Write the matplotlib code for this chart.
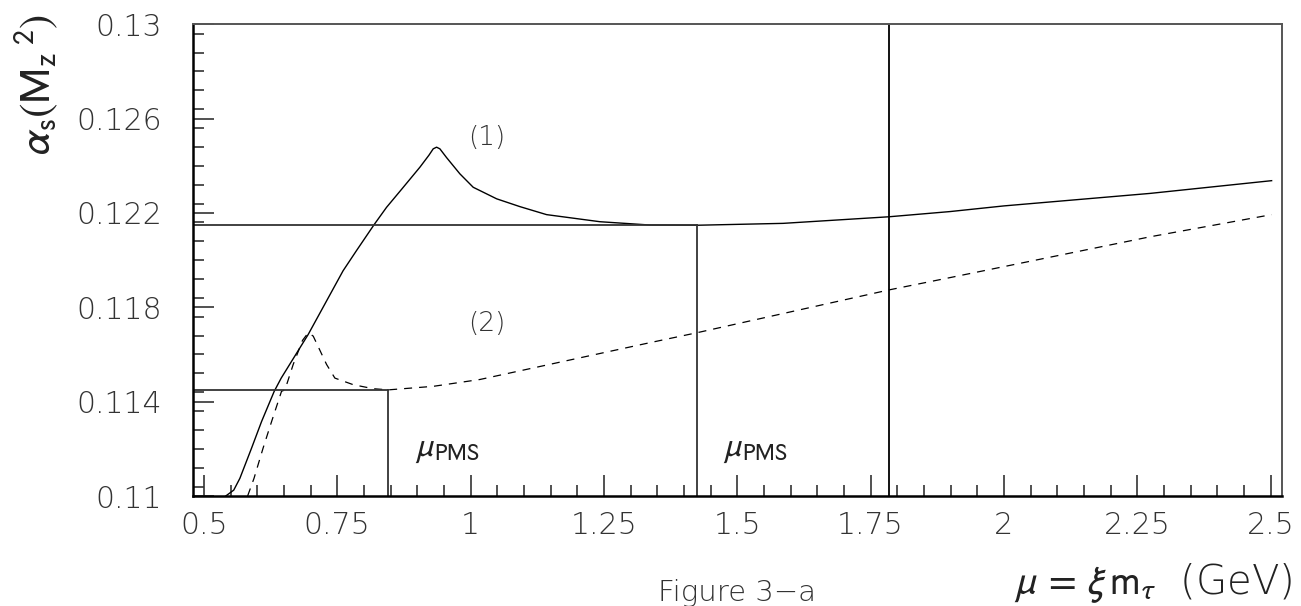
import matplotlib
matplotlib.use("Agg")
import matplotlib.pyplot as plt
from matplotlib.ticker import MultipleLocator

plt.rcParams['mathtext.fontset'] = 'stixsans'

# curve (1): solid
mu1 = [0.541, 0.556, 0.5675, 0.5894, 0.6082, 0.6319, 0.645, 0.6956, 0.730, 0.761,
       0.786, 0.819, 0.8425, 0.8713, 0.905, 0.922, 0.930, 0.9363, 0.9425, 0.955,
       0.980, 1.005, 1.049, 1.0925, 1.1426, 1.2425, 1.336, 1.424, 1.586, 1.785,
       1.899, 2.0, 2.274, 2.502]
alpha1 = [0.1100, 0.11025, 0.11075, 0.11203, 0.11316, 0.11444, 0.1150, 0.11685,
          0.11827, 0.11955, 0.1204, 0.1215, 0.12224, 0.12302, 0.12394, 0.12445,
          0.12472, 0.12479, 0.12472, 0.12435, 0.12366, 0.12309, 0.12260, 0.12227,
          0.12193, 0.12163, 0.12149, 0.12148, 0.12156, 0.12184, 0.12206, 0.1223,
          0.12283, 0.12337]

# curve (2): dashed
mu2 = [0.582, 0.594, 0.611, 0.627, 0.6456, 0.652, 0.6675, 0.685, 0.6956,
       0.705, 0.730, 0.7456, 0.780, 0.8175, 0.8456, 0.930, 1.0175, 1.336,
       1.424, 1.785, 1.899, 2.274, 2.502]
alpha2 = [0.1100, 0.11075, 0.11203, 0.11316, 0.11444, 0.1145, 0.11558, 0.1166,
          0.11692, 0.11678, 0.11558, 0.1150, 0.11472, 0.11455, 0.1145, 0.11465,
          0.11494, 0.11650, 0.11692, 0.11874, 0.11926, 0.12099, 0.12193]

# PMS points and tau mass
pms_mu = [1.424, 0.8456]
pms_alpha = [0.1215, 0.1145]
m_tau = 1.784

xmin, xmax = 0.479, 2.521
ymin, ymax = 0.11, 0.13

fig = plt.figure(figsize=(13.01, 6.06), dpi=100)
ax = fig.add_axes([0.1481, 0.1815, 0.8371, 0.7784])

ax.plot(mu1, alpha1, color='black', lw=1.0)
ax.plot(mu2, alpha2, color='black', lw=0.9, dashes=(6.4, 5.6))

for m, a in zip(pms_mu, pms_alpha):
    ax.plot([xmin, m], [a, a], color='#333333', lw=1.3)
    ax.plot([m, m], [ymin, a], color='#333333', lw=1.3)
ax.axvline(m_tau, color='black', lw=1.3)

ax.set_xlim(xmin, xmax)
ax.set_ylim(ymin, ymax)

ax.xaxis.set_minor_locator(MultipleLocator(0.05))
ax.yaxis.set_minor_locator(MultipleLocator(0.0008))
ax.set_xticks([0.5, 0.75, 1, 1.25, 1.5, 1.75, 2, 2.25, 2.5])
ax.set_xticklabels(['0.5', '0.75', '1', '1.25', '1.5', '1.75', '2', '2.25', '2.5'])
ax.set_yticks([0.11, 0.114, 0.118, 0.122, 0.126, 0.13])
ax.set_yticklabels(['0.11', '0.114', '0.118', '0.122', '0.126', '0.13'])

for lab in ax.get_xticklabels() + ax.get_yticklabels():
    lab.set_fontfamily('DejaVu Sans')
    lab.set_fontweight('light')
    lab.set_fontsize(21.5)
    lab.set_color('#333333')

ax.tick_params(which='both', direction='in', top=False, right=False, color='#333333')
ax.tick_params(which='major', length=15, width=1.2)
ax.tick_params(which='minor', length=8, width=1.2)
ax.tick_params(axis='x', which='major', pad=11)
ax.tick_params(axis='y', which='major', pad=22)

for side in ['left', 'bottom']:
    ax.spines[side].set_linewidth(1.8)
for side in ['top', 'right']:
    ax.spines[side].set_linewidth(1.4)
    ax.spines[side].set_color('#555555')

ax.text(1.031, 0.1252, '(1)', fontsize=19, fontweight='light', color='#333333',
        ha='center', va='center')
ax.text(1.031, 0.11733, '(2)', fontsize=19, fontweight='light', color='#333333',
        ha='center', va='center')
ax.text(0.896, 0.1120, r'$\mu_{\mathrm{PMS}}$', fontsize=24, color='#222222',
        ha='left', va='center')
ax.text(1.473, 0.1120, r'$\mu_{\mathrm{PMS}}$', fontsize=24, color='#222222',
        ha='left', va='center')

fig.text(36 / 1301, 1 - 85 / 606, r'$\alpha_{\mathrm{s}}(\mathrm{M_z}^{\ 2})$', rotation=90,
         fontsize=31, color='#222222', ha='center', va='center')
fig.text(1293 / 1301, 1 - 583 / 606, r'$\mu\,=\,\xi\,\mathrm{m}_\tau$  (GeV)',
         fontsize=29, fontweight='light', color='#222222', ha='right', va='center')
fig.text(737 / 1301, 1 - 593 / 606, 'Figure 3\u2212a', fontsize=21, fontweight='light',
         color='#333333', ha='center', va='center')

fig.savefig('out.png', dpi=100)
